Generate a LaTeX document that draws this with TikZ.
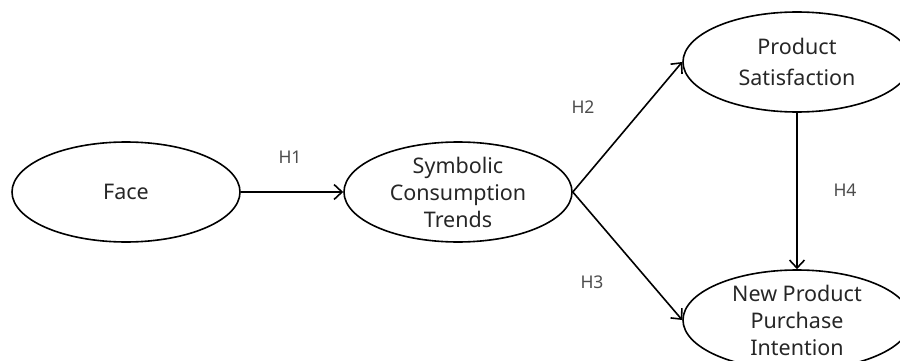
\documentclass[tikz,border=0pt]{standalone}
\usepackage{fontspec}
\setmainfont{Noto Sans}
\usetikzlibrary{shapes.geometric,arrows.meta}
\begin{document}
\begin{tikzpicture}[x=1pt,y=-1pt,
  construct/.style={ellipse,draw,line width=1.6pt,minimum width=228pt,minimum height=100pt,
    inner sep=0pt,align=center,font=\fontsize{21.5}{27}\selectfont,text=black!85},
  path/.style={line width=1.6pt,-{Straight Barb[length=8pt,width=15pt,line width=1.6pt]}},
  hyp/.style={font=\fontsize{17.5}{20}\selectfont,text=black!70}]
\useasboundingbox (0,0) rectangle (900,361);
\node[construct] (face) at (126,192) {Face};
\node[construct] (sym) at (458,192) {Symbolic\\Consumption\\Trends};
\node[construct,font=\fontsize{21.5}{31}\selectfont] (ps) at (797,62) {Product\\Satisfaction};
\node[construct] (npi) at (797,320) {New Product\\Purchase\\Intention};
\draw[path] (face) -- (sym);
\draw[path] (sym.east) -- (ps.west);
\draw[path] (sym.east) -- (npi.west);
\draw[path] (ps.south) -- (npi.north);
\node[hyp] (h1) at (290,157) {H1};
\node[hyp] (h2) at (583,107) {H2};
\node[hyp] (h3) at (592,282) {H3};
\node[hyp] (h4) at (845,190) {H4};
\end{tikzpicture}
\end{document}
